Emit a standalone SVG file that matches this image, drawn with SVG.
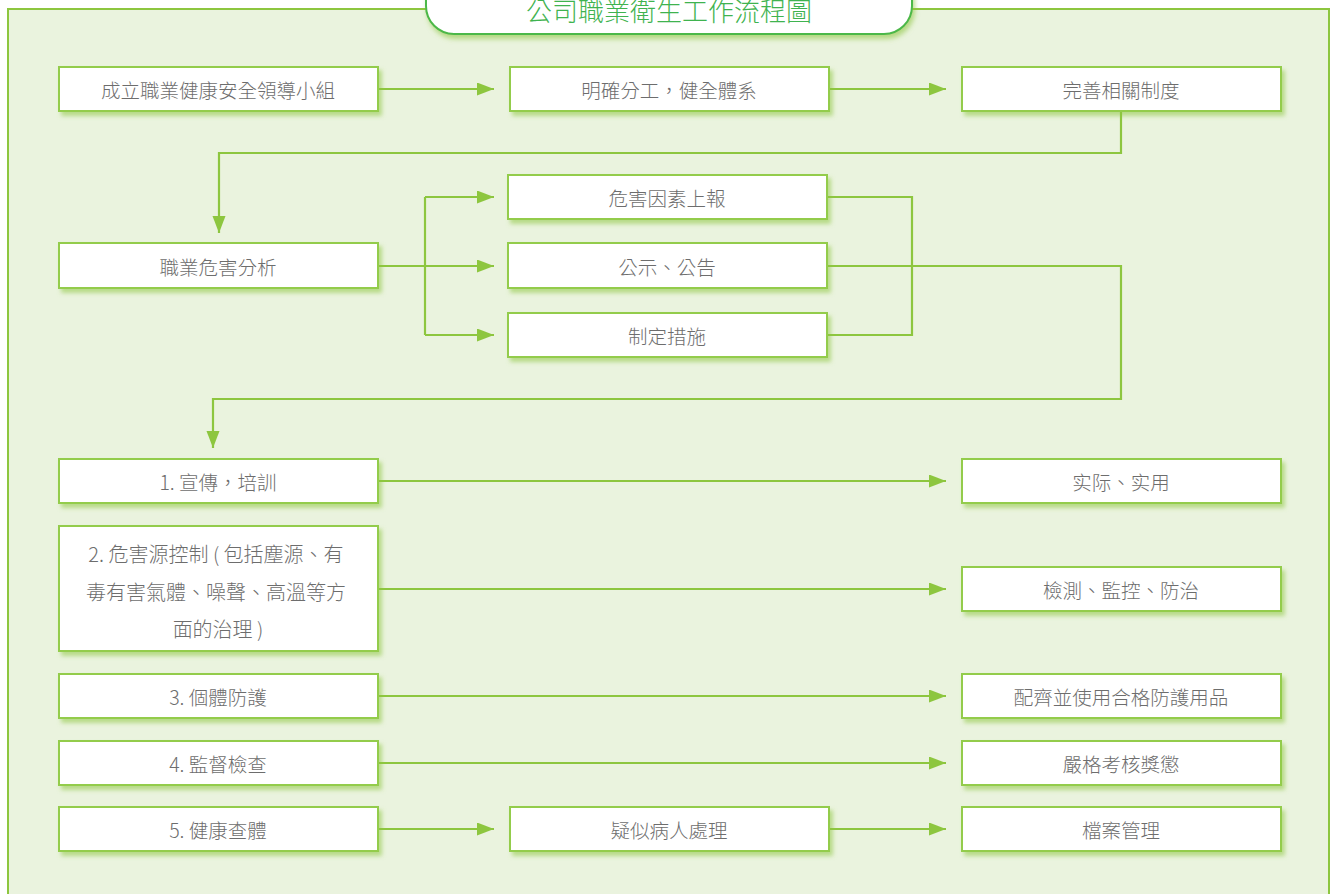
<svg xmlns="http://www.w3.org/2000/svg" width="1336" height="894" viewBox="0 0 1336 894">
<defs>
<style>
.frame{fill:#eaf3de;stroke:#8dc63f;stroke-width:2}
.box rect{fill:#ffffff;stroke:#93cc4c;stroke-width:2;filter:url(#sh)}
.box text{font-family:"Noto Sans CJK TC","Noto Sans CJK SC",sans-serif;font-size:19.5px;fill:#6d6d6d;text-anchor:middle;dominant-baseline:central;font-weight:300}
.box text.big{font-size:20px}
.conn path{fill:none;stroke:#8dc63f;stroke-width:2.2}
.title{font-family:"Noto Sans CJK TC","Noto Sans CJK SC",sans-serif;font-size:26px;fill:#3fb34f;text-anchor:middle;font-weight:300}
</style>
<filter id="sh" x="-10%" y="-20%" width="130%" height="160%">
<feDropShadow dx="3" dy="4" stdDeviation="2" flood-color="#8dc63f" flood-opacity="0.55"/>
</filter>
<filter id="sh2" x="-10%" y="-20%" width="130%" height="160%">
<feDropShadow dx="2" dy="4" stdDeviation="2.5" flood-color="#8dc63f" flood-opacity="0.6"/>
</filter>
<marker id="ah" markerUnits="userSpaceOnUse" markerWidth="18" markerHeight="14" refX="17" refY="6.5" orient="auto">
<path d="M0,0 L17,6.5 L0,13 z" fill="#8dc63f"/>
</marker>
</defs>
<rect class="frame" x="8" y="9" width="1321" height="900"/>
<g id="title">
<rect x="426" y="-30" width="486" height="64" rx="28" fill="#ffffff" stroke="#4cb848" stroke-width="2" filter="url(#sh2)"/>
<text class="title" x="669" y="21">公司職業衛生工作流程圖</text>
</g>
<g class="conn" id="connectors">
<path d="M378,89 H494" marker-end="url(#ah)"/>
<path d="M829,89 H946" marker-end="url(#ah)"/>
<path d="M1121,111 V153 H219 V233" marker-end="url(#ah)"/>
<path d="M378,266 H494" marker-end="url(#ah)"/>
<path d="M425,197 V335"/>
<path d="M425,197 H494" marker-end="url(#ah)"/>
<path d="M425,335 H494" marker-end="url(#ah)"/>
<path d="M827,197 H912 V335 H827"/>
<path d="M827,266 H1121 V399 H213 V448" marker-end="url(#ah)"/>
<path d="M378,481 H946" marker-end="url(#ah)"/>
<path d="M378,589 H946" marker-end="url(#ah)"/>
<path d="M378,696 H946" marker-end="url(#ah)"/>
<path d="M378,763 H946" marker-end="url(#ah)"/>
<path d="M378,829 H494" marker-end="url(#ah)"/>
<path d="M829,829 H946" marker-end="url(#ah)"/>
</g>
<g class="box" id="n1"><rect x="59" y="67" width="319" height="44"/><text x="218" y="89">成立職業健康安全領導小組</text></g>
<g class="box" id="n2"><rect x="510" y="67" width="319" height="44"/><text x="669" y="89">明確分工，健全體系</text></g>
<g class="box" id="n3"><rect x="962" y="67" width="319" height="44"/><text x="1121" y="89">完善相關制度</text></g>
<g class="box" id="n4"><rect x="59" y="243" width="319" height="45"/><text x="218" y="266">職業危害分析</text></g>
<g class="box" id="n5"><rect x="508" y="175" width="319" height="44"/><text x="667" y="197">危害因素上報</text></g>
<g class="box" id="n6"><rect x="508" y="243" width="319" height="45"/><text x="667" y="266">公示、公告</text></g>
<g class="box" id="n7"><rect x="508" y="313" width="319" height="44"/><text x="667" y="335">制定措施</text></g>
<g class="box" id="n8"><rect x="59" y="459" width="319" height="44"/><text x="218" y="481">1. 宣傳，培訓</text></g>
<g class="box" id="n9"><rect x="962" y="459" width="319" height="44"/><text x="1121" y="481">实际、实用</text></g>
<g class="box" id="n10"><rect x="59" y="526" width="319" height="125"/>
<text class="big" x="216" y="553">2. 危害源控制 ( 包括塵源、有</text>
<text class="big" x="216" y="591">毒有害氣體、噪聲、高溫等方</text>
<text class="big" x="218" y="628">面的治理 )</text></g>
<g class="box" id="n11"><rect x="962" y="567" width="319" height="44"/><text x="1121" y="589">檢測、監控、防治</text></g>
<g class="box" id="n12"><rect x="59" y="674" width="319" height="44"/><text x="218" y="696">3. 個體防護</text></g>
<g class="box" id="n13"><rect x="962" y="674" width="319" height="44"/><text x="1121" y="696">配齊並使用合格防護用品</text></g>
<g class="box" id="n14"><rect x="59" y="741" width="319" height="44"/><text x="218" y="763">4. 監督檢查</text></g>
<g class="box" id="n15"><rect x="962" y="741" width="319" height="44"/><text x="1121" y="763">嚴格考核獎懲</text></g>
<g class="box" id="n16"><rect x="59" y="807" width="319" height="44"/><text x="218" y="829">5. 健康查體</text></g>
<g class="box" id="n17"><rect x="510" y="807" width="319" height="44"/><text x="669" y="829">疑似病人處理</text></g>
<g class="box" id="n18"><rect x="962" y="807" width="319" height="44"/><text x="1121" y="829">檔案管理</text></g>
</svg>
